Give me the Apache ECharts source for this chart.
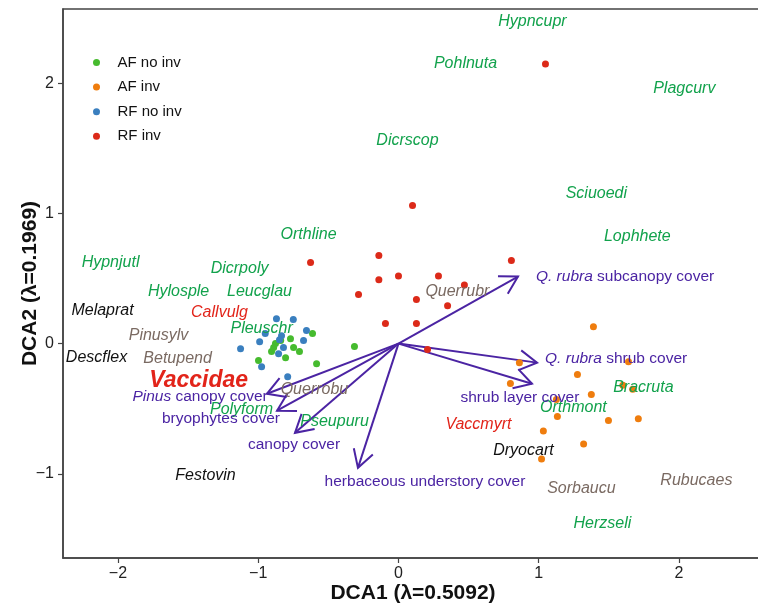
<!DOCTYPE html>
<html>
<head>
<meta charset="utf-8">
<script src="https://cdn.jsdelivr.net/npm/echarts@6/dist/echarts.min.js"></script>
<style>
  html, body { margin: 0; padding: 0; background: #fff; }
  #chart { width: 758px; height: 604px; }
</style>
</head>
<body>
<div id="chart"></div>
<script>
// site scores (DCA1, DCA2)
const afNoInv = [
  [-0.613, 0.077], [-0.77, 0.038], [-0.877, 0.0], [-0.748, -0.03], [-0.706, -0.06],
  [-0.905, -0.06], [-0.805, -0.108], [-0.998, -0.13], [-0.584, -0.154], [-0.314, -0.023],
  [-0.89, -0.03], [-0.84, 0.023]
];
const afInv = [
  [1.39, 0.13], [0.862, -0.146], [1.64, -0.14], [1.276, -0.238], [0.798, -0.306],
  [1.60, -0.32], [1.67, -0.35], [1.375, -0.39], [1.126, -0.43], [1.133, -0.56],
  [1.497, -0.59], [1.71, -0.577], [1.033, -0.67], [1.32, -0.77], [1.02, -0.885]
];
const rfNoInv = [
  [-0.87, 0.19], [-0.75, 0.185], [-0.656, 0.10], [-0.95, 0.077], [-0.99, 0.015],
  [-1.126, -0.04], [-0.677, 0.023], [-0.834, 0.06], [-0.848, 0.03], [-0.82, -0.03],
  [-0.855, -0.077], [-0.976, -0.177], [-0.79, -0.254]
];
const rfInv = [
  [1.048, 2.146], [0.10, 1.06], [-0.627, 0.623], [-0.14, 0.677], [0.805, 0.638],
  [-0.14, 0.49], [0.0, 0.52], [0.285, 0.52], [0.47, 0.45], [-0.285, 0.377],
  [0.128, 0.338], [0.35, 0.29], [-0.093, 0.154], [0.128, 0.154], [0.207, -0.046]
];

// species scores
const mossNames = ['Hypncupr', 'Pohlnuta', 'Plagcurv', 'Dicrscop', 'Sciuoedi', 'Lophhete', 'Orthline',
  'Hypnjutl', 'Dicrpoly', 'Hylosple', 'Leucglau', 'Pleuschr', 'Polyform', 'Pseupuru', 'Bracruta',
  'Orthmont', 'Herzseli'];
const mossScores = [[0.955, 2.469], [0.478, 2.154], [2.038, 1.962], [0.064, 1.562], [1.411, 1.154],
  [1.703, 0.823], [-0.641, 0.838], [-2.053, 0.623], [-1.133, 0.577], [-1.568, 0.40], [-0.991, 0.40],
  [-0.976, 0.115], [-1.119, -0.508], [-0.456, -0.60], [1.746, -0.338], [1.247, -0.492], [1.454, -1.385]];
const ericNames = ['Callvulg', 'Vaccmyrt'];
const ericScores = [[-1.276, 0.238], [0.57, -0.623]];
const herbNames = ['Melaprat', 'Descflex', 'Festovin', 'Dryocart'];
const herbScores = [[-2.11, 0.254], [-2.153, -0.108], [-1.376, -1.015], [0.891, -0.823]];
const treeNames = ['Pinusylv', 'Betupend', 'Querrobu', 'Querrubr', 'Sorbaucu', 'Rubucaes'];
const treeScores = [[-1.711, 0.062], [-1.575, -0.115], [-0.599, -0.354], [0.42, 0.40], [1.304, -1.115],
  [2.124, -1.054]];
const familyNames = ['Vaccidae'];
const familyScores = [[-1.425, -0.285]];

// environmental vectors
const envNames = ['Q. rubra subcanopy cover', 'Q. rubra shrub cover', 'shrub layer cover',
  'Pinus canopy cover', 'bryophytes cover', 'canopy cover', 'herbaceous understory cover'];
const envItalic = ['Q. rubra', 'Q. rubra', '', 'Pinus', '', '', ''];
const envTips = [[0.852, 0.515], [0.988, -0.146], [0.952, -0.308], [-0.938, -0.385],
  [-0.866, -0.515], [-0.738, -0.685], [-0.289, -0.954]];
const envLabelPos = [[0.98, 0.515], [1.045, -0.115], [0.866, -0.415], [-1.415, -0.408],
  [-1.266, -0.577], [-0.745, -0.777], [0.189, -1.062]];

const xTicks = [-2, -1, 0, 1, 2];
const yTicks = [-1, 0, 1, 2];

const FONT = 'Liberation Sans';
const PURPLE = '#4b24a3';
const minus = v => String(v).replace('-', '\u2212');

const named = (names, scores) => names.map((n, i) => ({ name: n, value: scores[i] }));

function labelSeries(names, scores, color, extra) {
  return {
    type: 'scatter', silent: true, symbolSize: 0, z: 5,
    itemStyle: { opacity: 1 },
    data: named(names, scores),
    label: Object.assign({
      show: true, position: 'inside', formatter: p => p.name, opacity: 1,
      color: color, fontStyle: 'italic', fontFamily: FONT, fontSize: 16
    }, extra || {})
  };
}

function siteSeries(name, data, color) {
  return { name: name, type: 'scatter', symbolSize: 7, z: 3,
    itemStyle: { color: color, opacity: 1 }, data: data };
}

const chart = echarts.init(document.getElementById('chart'));

const axisCommon = {
  axisLine: { onZero: false, lineStyle: { color: '#444', width: 1.5 } },
  axisTick: { show: true, length: 5, lineStyle: { color: '#444', width: 1.2 } },
  splitLine: { show: false },
  nameMoveOverlap: false,
  nameTextStyle: { fontFamily: FONT, fontWeight: 'bold', fontSize: 21, color: '#111' }
};

chart.setOption({
  animation: false,
  backgroundColor: '#fff',
  grid: { left: 63, top: 9, right: -5, bottom: 46, outerBoundsMode: 'none', containLabel: false,
    show: true, borderColor: '#444', borderWidth: 1.5 },
  legend: {
    left: 88, top: 50, orient: 'vertical', icon: 'circle',
    itemWidth: 32, itemHeight: 7, itemGap: 9.6,
    data: ['AF no inv', 'AF inv', 'RF no inv', 'RF inv'],
    textStyle: { fontFamily: FONT, fontSize: 15, color: '#111' }
  },
  xAxis: Object.assign({}, axisCommon, {
    type: 'value', min: -2.392, max: 2.599,
    name: 'DCA1 (\u03bb=0.5092)', nameLocation: 'middle', nameGap: 25,
    axisTick: Object.assign({}, axisCommon.axisTick, { customValues: xTicks }),
    axisLabel: { customValues: xTicks, formatter: minus, margin: 8, fontFamily: FONT, fontSize: 16, color: '#222' }
  }),
  yAxis: Object.assign({}, axisCommon, {
    type: 'value', min: -1.646, max: 2.569,
    name: 'DCA2 (\u03bb=0.1969)', nameLocation: 'middle', nameGap: 22,
    axisTick: Object.assign({}, axisCommon.axisTick, { customValues: yTicks }),
    axisLabel: { customValues: yTicks, formatter: minus, margin: 9, fontFamily: FONT, fontSize: 16, color: '#222' }
  }),
  series: [
    {
      type: 'custom', silent: true, z: 2, clip: false,
      data: envTips,
      renderItem: (params, api) => {
        const o = api.coord([0, 0]);
        const t = api.coord([api.value(0), api.value(1)]);
        const ang = Math.atan2(t[1] - o[1], t[0] - o[0]);
        const L = 20, a = Math.PI / 6;
        const p1 = [t[0] - L * Math.cos(ang - a), t[1] - L * Math.sin(ang - a)];
        const p2 = [t[0] - L * Math.cos(ang + a), t[1] - L * Math.sin(ang + a)];
        return {
          type: 'group',
          children: [
            { type: 'line', shape: { x1: o[0], y1: o[1], x2: t[0], y2: t[1] },
              style: { stroke: PURPLE, lineWidth: 2 } },
            { type: 'polyline', shape: { points: [p1, t, p2] },
              style: { stroke: PURPLE, fill: null, lineWidth: 2 } }
          ]
        };
      }
    },
    siteSeries('AF no inv', afNoInv, '#46bb2e'),
    siteSeries('AF inv', afInv, '#ef7d0e'),
    siteSeries('RF no inv', rfNoInv, '#3a7fbf'),
    siteSeries('RF inv', rfInv, '#dc2a19'),
    labelSeries(mossNames, mossScores, '#12a24c'),
    labelSeries(ericNames, ericScores, '#e2241a'),
    labelSeries(herbNames, herbScores, '#111'),
    labelSeries(treeNames, treeScores, '#7a6a62'),
    labelSeries(familyNames, familyScores, '#e2241a', { fontSize: 23, fontWeight: 'bold' }),
    {
      type: 'scatter', silent: true, symbolSize: 0, z: 5,
      itemStyle: { opacity: 1 },
      data: named(envNames, envLabelPos),
      label: {
        show: true, position: 'inside', color: PURPLE, fontFamily: FONT, fontSize: 15.5, opacity: 1,
        formatter: p => {
          const it = envItalic[p.dataIndex];
          return it ? '{i|' + it + '}' + p.name.slice(it.length) : p.name;
        },
        rich: { i: { fontStyle: 'italic', color: PURPLE, fontFamily: FONT, fontSize: 15.5 } }
      },
      labelLayout: p => (p.dataIndex < 2 ? { align: 'left' } : {})
    }
  ]
});
</script>
</body>
</html>
